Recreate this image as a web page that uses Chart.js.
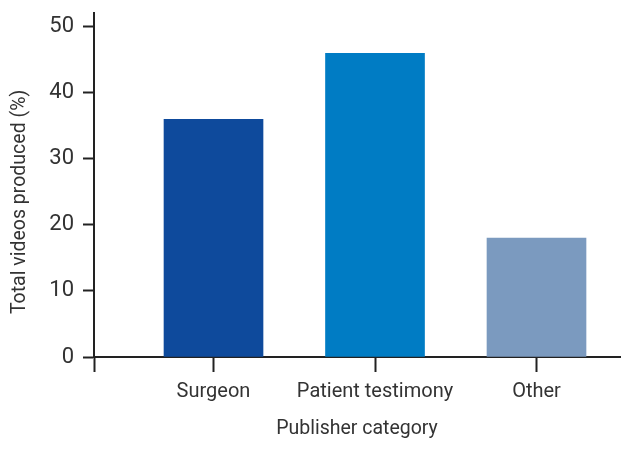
<!DOCTYPE html>
<html>
<head>
<meta charset="utf-8">
<script src="https://cdn.jsdelivr.net/npm/chart.js@4"></script>
<style>
  html, body { margin: 0; padding: 0; background: #fff; }
  #wrap { width: 625px; height: 449px; }
</style>
</head>
<body>
<div id="wrap"><canvas id="publisherChart" width="625" height="449"></canvas></div>
<script>
// --- DANE ---
const categories = ['Surgeon', 'Patient testimony', 'Other'];
const shares = [36, 46, 18];
const barColors = ['#0e4a9c', '#007cc4', '#7b9abf'];
const yTicks = [0, 10, 20, 30, 40, 50];

const FONT = "Roboto, 'Liberation Sans', sans-serif";
const INK = '#333333';
const AXIS = '#222222';

const ctx = document.getElementById('publisherChart').getContext('2d');

new Chart(ctx, {
    type: 'bar',
    data: {
        datasets: [{
            data: categories.map((c, i) => ({ x: i + 1, y: shares[i] })),
            backgroundColor: barColors,
            borderWidth: 0,
            barThickness: 99
        }]
    },
    options: {
        responsive: false,
        animation: false,
        layout: { padding: { top: 13, right: 5, bottom: 0, left: 0 } },
        plugins: { legend: { display: false }, tooltip: { enabled: false } },
        scales: {
            x: {
                type: 'linear',
                min: 0.26,
                max: 3.517,
                offset: false,
                afterFit: (scale) => {
                    scale.height = 92;
                    scale.paddingLeft = 0;
                    scale.paddingRight = 0;
                },
                // tick na początku osi (0.26) rysuje przedłużenie osi Y w dół
                afterBuildTicks: (scale) => {
                    scale.ticks = [0.26, 1, 2, 3].map(v => ({ value: v }));
                },
                border: { display: true, color: AXIS, width: 2 },
                grid: {
                    offset: false,
                    drawOnChartArea: false,
                    drawTicks: true,
                    tickLength: 15,
                    tickWidth: 2,
                    tickColor: AXIS
                },
                ticks: {
                    padding: 8,
                    color: INK,
                    font: { family: FONT, size: 20 },
                    maxRotation: 0,
                    autoSkip: false,
                    callback: (v) => categories[v - 1] || ''
                },
                title: {
                    display: true,
                    text: 'Publisher category',
                    color: INK,
                    font: { family: FONT, size: 19.5 },
                    padding: { top: 6, bottom: 8 }
                }
            },
            y: {
                min: 0,
                max: 52.12,
                afterFit: (scale) => {
                    scale.width = 94;
                    scale.paddingTop = 0;
                    scale.paddingBottom = 0;
                },
                afterBuildTicks: (scale) => {
                    scale.ticks = yTicks.map(v => ({ value: v }));
                },
                border: { display: true, color: AXIS, width: 2 },
                grid: {
                    drawOnChartArea: false,
                    tickLength: 11,
                    tickWidth: 2,
                    tickColor: AXIS
                },
                ticks: {
                    padding: 9,
                    color: INK,
                    font: { family: FONT, size: 22 }
                },
                title: {
                    display: true,
                    // spacje na końcu przesuwają napis w dół, jak w oryginale
                    text: 'Total videos produced (%)\u00a0\u00a0\u00a0\u00a0\u00a0\u00a0\u00a0',
                    color: INK,
                    font: { family: FONT, size: 19.5 },
                    padding: { top: 8, bottom: 6 }
                }
            }
        }
    }
});
</script>
</body>
</html>
